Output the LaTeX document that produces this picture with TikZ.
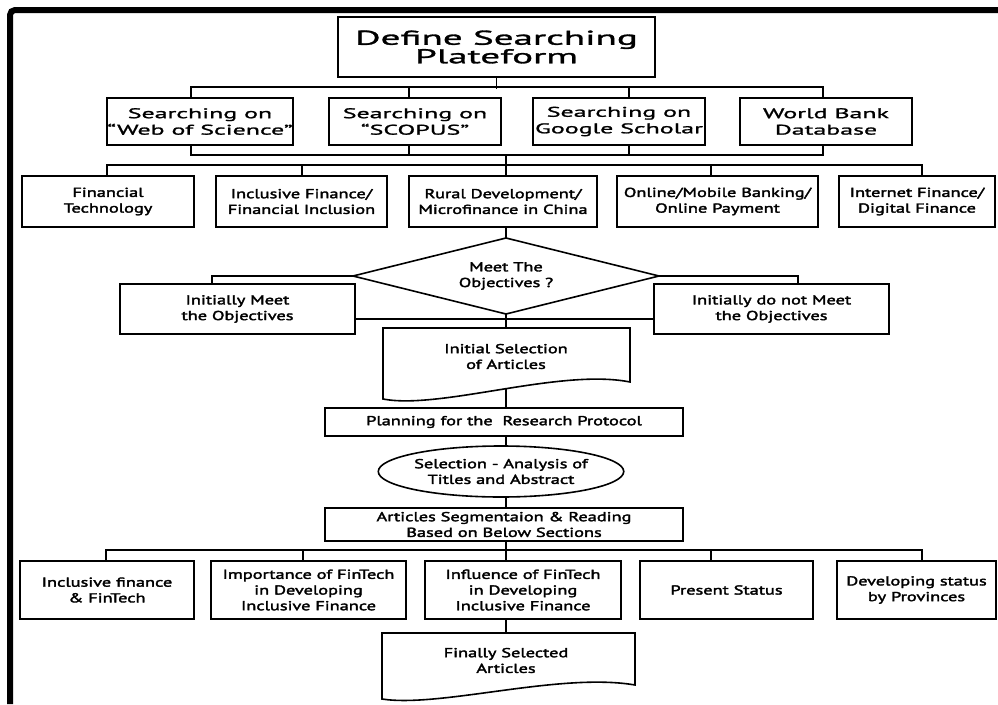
\documentclass[tikz,border=0pt]{standalone}
\usepackage{fontspec}
\setmainfont{PT Sans}
\newfontfamily\titlefont[FakeStretch=1.95,FakeBold=1.5]{PT Sans}
\newfontfamily\headfont[FakeStretch=1.85,FakeBold=1.5]{PT Sans}
\newfontfamily\bodyfont[FakeStretch=1.41,FakeBold=2.5]{PT Sans}
\usetikzlibrary{shapes.geometric}
\tikzset{
  box/.style={draw, rectangle, inner sep=0pt, align=center,
    font=\bodyfont\fontsize{13}{15.7}\selectfont},
  hbox/.style={box, font=\headfont\fontsize{14}{16.5}\selectfont},
  tbox/.style={box, font=\titlefont\fontsize{20}{18.5}\selectfont},
  txt/.style={inner sep=0pt, align=center, font=\bodyfont\fontsize{13}{15.7}\selectfont},
  wh/.style 2 args={minimum width=#1pt, minimum height=#2pt},
  conn/.style={line width=1.6pt, black},
  frame/.style={line width=6pt, black, rounded corners=5pt}
}
\begin{document}
\begin{tikzpicture}[x=1pt,y=-1pt,line width=1.6pt]
\useasboundingbox (0,0) rectangle (998,704);
\fill[white] (0,0) rectangle (998,704);
\draw[frame] (10,704) -- (10,10) -- (998,10);

% title
\node[tbox, wh={317}{60}] (t) at (496.5,47) {Define Searching\\Plateform};
% row 2
\node[hbox, wh={186}{47}] (b1) at (200,121.5) {Searching on\\“Web of Science”};
\node[hbox, wh={172}{47}] (b2) at (415,121.5) {Searching on\\“SCOPUS”};
\node[hbox, wh={172}{47}] (b3) at (619,121.5) {Searching on\\Google Scholar};
\node[hbox, wh={172}{47}] (b4) at (826,121.5) {World Bank\\Database};
% row 3
\node[box, wh={172}{51}] (c1) at (108,201.5) {Financial\\Technology};
\node[box, wh={171}{51}] (c2) at (301.5,201.5) {Inclusive Finance/\\Financial Inclusion};
\node[box, wh={188}{51}] (c3) at (503,201.5) {Rural Development/\\Microfinance in China};
\node[box, wh={201}{51}] (c4) at (717.5,201.5) {Online/Mobile Banking/\\Online Payment};
\node[box, wh={156}{51}] (c5) at (917,201.5) {Internet Finance/\\Digital Finance};
% decision
\coordinate (dt) at (506,238);
\coordinate (dr) at (659,276);
\coordinate (db) at (506,314);
\coordinate (dl) at (353,276);
\draw (dt) -- (dr) -- (db) -- (dl) -- cycle;
\node[txt] (dia) at (506,276) {Meet The\\Objectives ?};
\node[box, wh={235}{50}] (d1) at (237.5,309) {Initially Meet\\the Objectives};
\node[box, wh={235}{50}] (d2) at (771.5,309) {Initially do not Meet\\the Objectives};
% document 1
\coordinate (doc1t) at (506,328);
\coordinate (doc1b) at (506,388);
\draw (383,328) -- (630,328) -- (630,382) .. controls (560,368) and (440,410) .. (383,399) -- cycle;
\node[txt] (doc1) at (506,356.5) {Initial Selection\\of Articles};
% process chain
\node[box, wh={358}{28}] (e) at (504,422) {Planning for the\ \ Research Protocol};
\node[draw, ellipse, inner sep=0pt, wh={234}{51}, align=center,
  font=\bodyfont\fontsize{13}{15.7}\selectfont] (el) at (501,471.5) {Selection - Analysis of\\Titles and Abstract};
\node[box, wh={358}{33}] (f) at (504,524.5) {Articles Segmentaion \& Reading\\Based on Below Sections};
% bottom row
\node[box, wh={174}{58}] (g1) at (107,590) {Inclusive finance\\\& FinTech};
\node[box, wh={195}{58}] (g2) at (308.5,590) {Importance of FinTech\\in Developing\\Inclusive Finance};
\node[box, wh={196}{58}] (g3) at (523,590) {Influence of FinTech\\in Developing\\Inclusive Finance};
\node[box, wh={173}{58}] (g4) at (726.5,590) {Present Status};
\node[box, wh={159}{58}] (g5) at (916.5,590) {Developing status\\by Provinces};
% document 2
\coordinate (doc2t) at (506,633);
\draw (382,633) -- (635,633) -- (635,685) .. controls (560,672) and (440,708) .. (382,699) -- cycle;
\node[txt] (doc2) at (506,660.5) {Finally Selected\\Articles};

% connectors
\draw[conn] (t.south) -- ++(0,11);
\draw[conn] ([xshift=-9pt]b1.north) -- ++(0,-10) -| ([xshift=-3pt]b4.north);
\draw[conn] ([xshift=-6pt]b2.north) -- ++(0,-10);
\draw[conn] ([xshift=10pt]b3.north) -- ++(0,-10);
\draw[conn] ([xshift=-9pt]b1.south) -- ++(0,9) -| ([xshift=-3pt]b4.south);
\draw[conn] ([xshift=-6pt]b2.south) -- ++(0,9);
\draw[conn] ([xshift=10pt]b3.south) -- ++(0,9);
\coordinate (m1) at (506,154);
\draw[conn] (m1) -- ++(0,12);
\draw[conn] ([xshift=-1pt]c1.north) -- ++(0,-10) -| ([xshift=5pt]c5.north);
\draw[conn] ([xshift=0.5pt]c2.north) -- ++(0,-10);
\draw[conn] ([xshift=3pt]c3.north) -- ++(0,-10);
\draw[conn] ([xshift=-6.5pt]c4.north) -- ++(0,-10);
\draw[conn] ([xshift=3pt]c3.south) -- (dt);
\draw[conn] (dl) -| ([xshift=-25.5pt]d1.north);
\draw[conn] (dr) -| ([xshift=26.5pt]d2.north);
\draw[conn] ([yshift=-10pt]d1.east) -- ([yshift=-10pt]d2.west);
\draw[conn] (db) -- (doc1t);
\draw[conn] (doc1b) -- (e.north -| doc1b);
\draw[conn] (e.south -| doc1b) -- (el.north -| doc1b);
\draw[conn] (el.south -| doc1b) -- (f.north -| doc1b);
\draw[conn] (f.south -| doc1b) -- ++(0,10);
\draw[conn] ([xshift=-1pt]g1.north) -- ++(0,-10) -| ([xshift=5.5pt]g5.north);
\draw[conn] ([xshift=-5.5pt]g2.north) -- ++(0,-10);
\draw[conn] ([xshift=-17pt]g3.north) -- ++(0,-10);
\draw[conn] ([xshift=-15.5pt]g4.north) -- ++(0,-10);
\draw[conn] ([xshift=-17pt]g3.south) -- (doc2t);
\end{tikzpicture}
\end{document}
